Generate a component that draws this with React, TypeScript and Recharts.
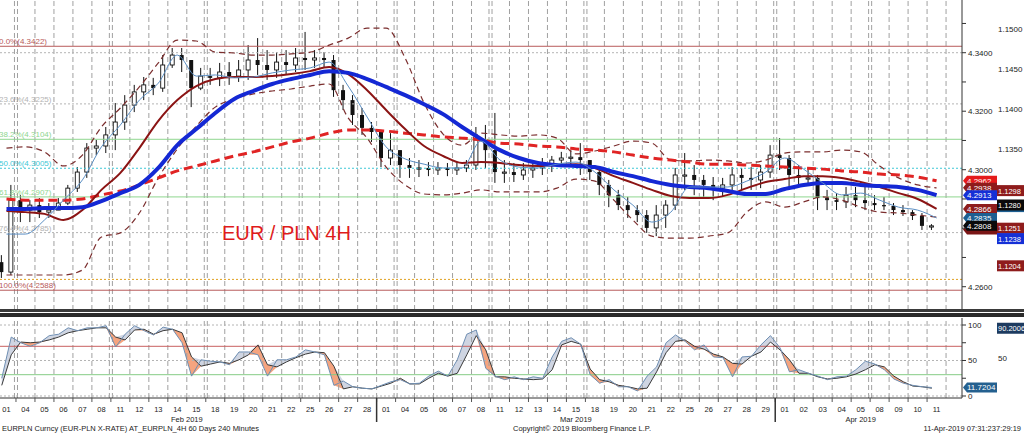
import React from "react";
import { Area, Bar, ComposedChart, Line, ReferenceLine, XAxis, YAxis } from "recharts";

const FONT = "'Liberation Sans', Arial, sans-serif";

// trading days on the axis, Feb 1 - Apr 11 2019
const dayLabels = [
  "01", "04", "05", "06", "07", "08", "11", "12", "13", "14", "15", "18", "19", "20", "21", "22", "25", "26", "27", "28",
  "01", "04", "05", "06", "07", "08", "11", "12", "13", "14", "15", "18", "19", "20", "21", "22", "25", "26", "27", "28", "29",
  "01", "02", "03", "04", "05", "08", "09", "10", "11",
];
const monthNames = ["Feb 2019", "Mar 2019", "Apr 2019"];

// EUR/PLN, half-day bars (open = previous close)
const firstOpen = 4.2684;
const highs = [
  4.2708, 4.2948, 4.2913, 4.2896, 4.2903, 4.2886, 4.2903, 4.2948, 4.3009, 4.3091,
  4.3102, 4.3146, 4.3228, 4.3255, 4.329, 4.3317, 4.3314, 4.3392, 4.3416, 4.3416,
  4.3358, 4.3348, 4.3348, 4.3365, 4.3368, 4.3375, 4.3426, 4.345, 4.3409, 4.3402,
  4.3409, 4.3416, 4.3471, 4.3409, 4.3402, 4.3392, 4.329, 4.3255, 4.3211, 4.3163,
  4.3136, 4.3125, 4.3067, 4.304, 4.3033, 4.3026, 4.3026, 4.3023, 4.3026, 4.3033,
  4.3146, 4.3153, 4.3194, 4.3033, 4.3023, 4.3023, 4.3026, 4.304, 4.3047, 4.3061,
  4.3067, 4.3091, 4.3033, 4.2999, 4.2965, 4.2931, 4.2907, 4.2879, 4.2862, 4.2879,
  4.2896, 4.3006, 4.3057, 4.3016, 4.2982, 4.2975, 4.2972, 4.3009, 4.3006, 4.3009,
  4.3016, 4.3084, 4.3108, 4.305, 4.3016, 4.3009, 4.2982, 4.2931, 4.292, 4.2941,
  4.2941, 4.2941, 4.2913, 4.2907, 4.2886, 4.2879, 4.2862, 4.2852, 4.2814,
];
const lows = [
  4.263, 4.264, 4.2821, 4.2821, 4.2835, 4.2835, 4.2862, 4.2879, 4.2924, 4.2972,
  4.305, 4.3057, 4.3067, 4.3136, 4.3197, 4.3238, 4.3255, 4.3266, 4.3348, 4.3334,
  4.3214, 4.3272, 4.329, 4.3286, 4.329, 4.33, 4.3307, 4.3324, 4.3307, 4.3314,
  4.3324, 4.3334, 4.3341, 4.3348, 4.3348, 4.3249, 4.3204, 4.3153, 4.3119, 4.3095,
  4.3009, 4.3016, 4.2972, 4.2972, 4.2975, 4.2978, 4.2982, 4.2978, 4.2982, 4.2992,
  4.2999, 4.3006, 4.2955, 4.2955, 4.2958, 4.2965, 4.2972, 4.2982, 4.2992, 4.3009,
  4.3013, 4.2982, 4.2965, 4.2913, 4.2872, 4.2862, 4.2835, 4.2821, 4.2784, 4.2773,
  4.2801, 4.2862, 4.2931, 4.2913, 4.2903, 4.2896, 4.2907, 4.292, 4.2931, 4.2931,
  4.2937, 4.2972, 4.2999, 4.2941, 4.2941, 4.2948, 4.2862, 4.2862, 4.2862, 4.2869,
  4.2872, 4.2862, 4.2862, 4.2862, 4.2845, 4.2842, 4.2828, 4.2794, 4.2794,
];
const closes = [
  4.265, 4.2896, 4.2862, 4.2879, 4.2855, 4.2862, 4.2886, 4.2937, 4.2992, 4.3074,
  4.3081, 4.3119, 4.3163, 4.3221, 4.3266, 4.329, 4.3279, 4.3358, 4.3392, 4.3375,
  4.3279, 4.332, 4.3314, 4.3334, 4.332, 4.3341, 4.3375, 4.3358, 4.3341, 4.3368,
  4.3358, 4.3382, 4.3375, 4.3382, 4.3375, 4.3272, 4.3238, 4.3187, 4.3143, 4.3129,
  4.304, 4.3067, 4.3016, 4.3006, 4.3006, 4.2999, 4.3006, 4.2999, 4.3006, 4.3016,
  4.3102, 4.3067, 4.2992, 4.2992, 4.2982, 4.2999, 4.3006, 4.3016, 4.3033, 4.304,
  4.3043, 4.3033, 4.2992, 4.2948, 4.2913, 4.2879, 4.2862, 4.2845, 4.2801, 4.2845,
  4.2879, 4.2982, 4.2982, 4.2965, 4.2948, 4.2937, 4.2948, 4.2982, 4.2972, 4.2965,
  4.2992, 4.305, 4.304, 4.2982, 4.2972, 4.2972, 4.2903, 4.2896, 4.289, 4.2913,
  4.2896, 4.2886, 4.2879, 4.2876, 4.2862, 4.2855, 4.2842, 4.2808, 4.2808,
];

// studies, one value per trading day
const fastMa = [
  4.278, 4.278, 4.2828, 4.2896, 4.2965, 4.3078, 4.3153, 4.3238, 4.3296, 4.3392,
  4.332, 4.3324, 4.3314, 4.3317, 4.3331, 4.3341, 4.3348, 4.3368, 4.3286, 4.318,
  4.3078, 4.3037, 4.3019, 4.3006, 4.3006, 4.3098, 4.3033, 4.3009, 4.3006, 4.3019,
  4.3026, 4.2992, 4.2931, 4.2879, 4.2821, 4.2855, 4.2941, 4.2941, 4.2941, 4.2961,
  4.2992, 4.304, 4.3002, 4.2955, 4.2914, 4.292, 4.2896, 4.2872, 4.2862, 4.2835,
];
const midMa = [
  4.2859, 4.2855, 4.2849, 4.2828, 4.2862, 4.2931, 4.2989, 4.3074, 4.3167, 4.3238,
  4.3286, 4.331, 4.3317, 4.3317, 4.332, 4.3327, 4.3337, 4.3351, 4.3327, 4.3272,
  4.3204, 4.3139, 4.3081, 4.3047, 4.3023, 4.3026, 4.3023, 4.3016, 4.3013, 4.3016,
  4.3019, 4.3006, 4.2978, 4.2955, 4.2931, 4.291, 4.2903, 4.2903, 4.2914, 4.2937,
  4.2958, 4.2968, 4.2978, 4.2978, 4.2972, 4.2958, 4.2941, 4.292, 4.29, 4.2866,
];
const trendMa = [
  4.2866, 4.2866, 4.2869, 4.2869, 4.2872, 4.2893, 4.292, 4.2948, 4.3006, 4.3084,
  4.3139, 4.3194, 4.3242, 4.3269, 4.3293, 4.331, 4.3324, 4.3337, 4.3331, 4.331,
  4.3283, 4.3255, 4.3224, 4.319, 4.3146, 4.3105, 4.3067, 4.304, 4.3023, 4.3016,
  4.3013, 4.3009, 4.2992, 4.2978, 4.2961, 4.2948, 4.2941, 4.2937, 4.2927, 4.2917,
  4.2917, 4.2934, 4.2948, 4.2955, 4.2955, 4.2948, 4.2944, 4.2941, 4.2931, 4.2913,
];
const slowMa = [
  4.29, 4.2896, 4.2896, 4.2896, 4.29, 4.2914, 4.2927, 4.2948, 4.2972, 4.2996,
  4.3013, 4.303, 4.3047, 4.3061, 4.3078, 4.3095, 4.3108, 4.3125, 4.3136, 4.3136,
  4.3132, 4.3125, 4.3119, 4.3112, 4.3108, 4.3102, 4.3091, 4.3088, 4.3081, 4.3078,
  4.3071, 4.3067, 4.3061, 4.305, 4.304, 4.3033, 4.3026, 4.3019, 4.3019, 4.3016,
  4.3013, 4.3009, 4.3006, 4.3002, 4.2996, 4.2992, 4.2985, 4.2982, 4.2975, 4.2962,
];
const bbUpper = [
  4.3074, 4.3078, 4.3061, 4.3013, 4.305, 4.3146, 4.3211, 4.3283, 4.3365, 4.3443,
  4.344, 4.3402, 4.3399, 4.3392, 4.3392, 4.3396, 4.3402, 4.3426, 4.345, 4.3484,
  4.3484, 4.3382, 4.3228, 4.3122, 4.3084, 4.3125, 4.3119, 4.3115, 4.3119, 4.3108,
  4.3054, 4.3064, 4.3081, 4.3098, 4.3091, 4.3033, 4.303, 4.3033, 4.303, 4.3023,
  4.3033, 4.3057, 4.3061, 4.3061, 4.3067, 4.3061, 4.3013, 4.2972, 4.2948, 4.2938,
];
const bbLower = [
  4.264, 4.264, 4.264, 4.264, 4.2657, 4.277, 4.2784, 4.2852, 4.2972, 4.3071,
  4.3149, 4.3214, 4.3242, 4.3259, 4.3269, 4.3276, 4.3286, 4.3293, 4.3177, 4.3108,
  4.3009, 4.2948, 4.2917, 4.2914, 4.292, 4.2931, 4.2924, 4.2924, 4.2924, 4.2937,
  4.2968, 4.2961, 4.2896, 4.2828, 4.2773, 4.2766, 4.2766, 4.2773, 4.2784, 4.2855,
  4.289, 4.2872, 4.289, 4.2907, 4.2896, 4.2872, 4.2855, 4.2852, 4.2845, 4.2838,
];

// stochastics, half-day
const stochK = [
  25, 83, 75, 70, 75, 85, 87, 96, 92, 96, 96, 99, 69, 87, 99, 92, 86, 97, 94, 75,
  28, 51, 49, 48, 44, 62, 62, 58, 28, 51, 51, 55, 65, 62, 58, 15, 21, 13, 11, 10,
  15, 20, 23, 17, 18, 28, 35, 28, 51, 87, 93, 39, 28, 23, 27, 23, 27, 25, 55, 77,
  82, 73, 30, 18, 23, 13, 13, 7, 28, 41, 75, 86, 77, 65, 72, 55, 54, 27, 55, 56,
  72, 85, 68, 34, 37, 32, 28, 23, 27, 28, 37, 49, 45, 37, 24, 18, 15, 13, 12,
];
const stochD = [
  15, 58, 76, 75, 76, 79, 83, 89, 92, 94, 96, 96, 83, 79, 93, 94, 87, 92, 94, 89,
  55, 42, 45, 48, 46, 51, 58, 72, 44, 41, 48, 54, 59, 62, 61, 42, 10, 13, 11, 10,
  14, 18, 25, 17, 17, 25, 32, 28, 32, 58, 85, 65, 27, 27, 25, 24, 23, 24, 37, 72,
  77, 73, 38, 23, 20, 15, 13, 10, 11, 34, 61, 77, 79, 70, 66, 59, 55, 46, 45, 56,
  62, 76, 65, 51, 32, 32, 27, 24, 25, 27, 31, 37, 44, 41, 28, 20, 14, 13, 11,
];

// Fibonacci retracement of the Jan-Feb move
const fibLabels = ["0.0%(4.3422)", "23.6%(4.3225)", "38.2%(4.3104)", "50.0%(4.3005)", "61.8%(4.2907)", "76.4%(4.2785)", "100.0%(4.2588)"];
const fibLevels = [4.3422, 4.3225, 4.3104, 4.3005, 4.2907, 4.2785, 4.2588];
const fibStyles = [
  { c: "#b85a5a", d: undefined }, { c: "#b4b4b4", d: "2 2" }, { c: "#8fd68f", d: undefined }, { c: "#3ec8d6", d: "2 2" },
  { c: "#8fd68f", d: undefined }, { c: "#b4b4b4", d: "2 2" }, { c: "#b85a5a", d: undefined },
];
const supportLevel = 4.2625;
const gridLevel = 4.34;

// last-value tags (empty text = tag hidden under its neighbour)
const plnTags = [4.2962, 4.2938, 4.2913, 4.2866, 4.2835, 4.2796, 4.2808];
const plnTagText = ["4.2962", "4.2938", "4.2913", "4.2866", "4.2835", "", "4.2808"];
const plnTagColors = ["#e41b1b", "#8e1c1c", "#1530d6", "#8e1c1c", "#1d5f92", "#7a1515", "#0a0a0a"];
const usdTags = [1.1298, 1.1278, 1.128, 1.1251, 1.1238, 1.1204];
const usdTagText = ["1.1298", "", "1.1280", "1.1251", "1.1238", "1.1204"];
const usdTagColors = ["#8e1c1c", "#1d5f92", "#0a0a0a", "#8e1c1c", "#1530d6", "#8e1c1c"];
const plnTicks = [4.26, 4.27, 4.28, 4.29, 4.3, 4.31, 4.32, 4.33, 4.34, 4.35];
const plnLabelled = [4.26, 4.3, 4.32, 4.34];
const usdTicks = [1.115, 1.135, 1.14, 1.145, 1.15];
const stochTicks = [0, 25, 50, 75, 100];

const PLOT_W = 965;
const DAY_DOMAIN: [number, number] = [0, 50.84];
const DAY_PX = PLOT_W / DAY_DOMAIN[1];

const candleRows = closes.map((c, j) => {
  const o = j === 0 ? firstOpen : closes[j - 1];
  return { t: j * 0.5 + 0.25, o, c, range: [Math.min(lows[j], o, c), Math.max(highs[j], o, c)] };
});
const studyRows = fastMa.map((v, i) => ({
  t: i + 0.5, fast: v, mid: midMa[i], trend: trendMa[i], slow: slowMa[i], up: bbUpper[i], lo: bbLower[i],
}));
const mainRows = [...candleRows, ...studyRows].sort((a, b) => a.t - b.t);

const stochRows = stochK.map((k, j) => {
  const d = stochD[j];
  return { t: j * 0.5 + 0.25, k, d, above: k >= d ? [d, k] : [d, d], below: k < d ? [k, d] : [d, d] };
});

// month starts and weekend breaks, from the day labels
const monthStarts: number[] = [];
const weekendBreaks: number[] = [];
{
  let m = 0;
  dayLabels.forEach((lab, i) => {
    if (lab === "01") { monthStarts.push(i); if (i > 0) m++; }
    const dt = new Date(2019, 1 + m, Number(lab));
    if (dt.getDay() === 5) weekendBreaks.push(i + 1);
  });
}
const monthCenters = monthStarts.map((s, k) => (s + (monthStarts[k + 1] ?? dayLabels.length)) / 2);
const dayBreaks = dayLabels.map((_, i) => i + 1);

const Candle = (p: any) => {
  const { x, y, width, height, payload } = p;
  if (!payload || !payload.range) return null;
  const [lo, hi] = payload.range;
  const top = Math.min(y, y + height);
  const h = Math.abs(height);
  const k = hi > lo ? h / (hi - lo) : 0;
  const yo = top + (hi - payload.o) * k;
  const yc = top + (hi - payload.c) * k;
  const cx = x + width / 2;
  const up = payload.c >= payload.o;
  return (
    <g>
      <line x1={cx} x2={cx} y1={top} y2={top + Math.max(h, 1)} stroke="#111" strokeWidth={1} />
      <rect x={cx - 2} y={Math.min(yo, yc)} width={4} height={Math.max(1.2, Math.abs(yc - yo))}
        fill={up ? "#fff" : "#111"} stroke="#111" strokeWidth={up ? 0.9 : 0} />
    </g>
  );
};

const fibLabel = (text: string, color: string) => (p: any) => (
  <text x={p.viewBox.x + 2} y={p.viewBox.y - 2} fill={color} fontSize={8} fontFamily={FONT}>{text}</text>
);

// tag with a pointed left end (first axis column)
const tag = (text: string, color: string, w: number) => (p: any) => {
  const x0 = p.viewBox.x + p.viewBox.width + 1;
  const y = p.viewBox.y;
  return (
    <g>
      <path d={`M${x0} ${y} L${x0 + 4} ${y - 5} L${x0 + w} ${y - 5} L${x0 + w} ${y + 5} L${x0 + 4} ${y + 5} Z`} fill={color} />
      {text && <text x={x0 + 4} y={y + 3} fill="#fff" fontSize={8} fontFamily={FONT}>{text}</text>}
    </g>
  );
};

// plain tag in the second axis column
const tag2 = (text: string, color: string) => (p: any) => {
  const x0 = p.viewBox.x + p.viewBox.width + 35;
  const y = p.viewBox.y;
  return (
    <g>
      <rect x={x0} y={y - 5.5} width={40} height={11} fill={color} />
      {text && <text x={x0 + 1} y={y + 3} fill="#fff" fontSize={7.5} fontFamily={FONT}>{text}</text>}
    </g>
  );
};

const DayTick = (p: any) => {
  const { x, y, payload } = p;
  const i = Math.floor(payload.value);
  const edge = x - DAY_PX / 2;
  const isMonth = monthStarts.includes(i) && i > 0;
  return (
    <g>
      <line x1={edge} x2={edge} y1={y} y2={y + 4} stroke="#555" />
      {isMonth && <line x1={edge} x2={edge} y1={y} y2={y + 24} stroke="#333" strokeWidth={1.5} />}
      <text x={x} y={y + 14} textAnchor="middle" fontSize={7.5} fill="#222" fontFamily={FONT}>{dayLabels[i]}</text>
    </g>
  );
};

const MonthTick = (p: any) => {
  const { x, y, payload } = p;
  const k = monthCenters.indexOf(payload.value);
  return <text x={x} y={y + 8} textAnchor="middle" fontSize={7.5} fill="#222" fontFamily={FONT}>{monthNames[k]}</text>;
};

const vLines = () => [
  ...dayBreaks.map((t) =>
    weekendBreaks.includes(t) ? null : (
      <ReferenceLine key={"d" + t} x={t} stroke="#a0a0a0" strokeDasharray="5 3" />
    ),
  ),
  ...weekendBreaks.flatMap((t) => [
    <ReferenceLine key={"wa" + t} x={t - 0.08} stroke="#a0a0a0" strokeDasharray="5 3" />,
    <ReferenceLine key={"wb" + t} x={t + 0.08} stroke="#a0a0a0" strokeDasharray="5 3" />,
  ]),
];

export default function App() {
  const tickStyle = { fontSize: 8, fill: "#222", fontFamily: FONT };
  return (
    <div style={{ position: "fixed", left: 0, top: 0, width: 1024, height: 434, background: "#fff", overflow: "hidden", fontFamily: FONT }}>
      <div style={{ position: "absolute", left: -3, top: 0 }}>
        <ComposedChart width={1030} height={310} data={mainRows} margin={{ top: 0, right: 0, bottom: 0, left: 0 }}>
          <XAxis type="number" dataKey="t" domain={DAY_DOMAIN} hide allowDataOverflow />
          <YAxis orientation="right" domain={[4.25204, 4.35802]} ticks={plnTicks} width={35} allowDataOverflow
            axisLine={{ stroke: "#333" }} tickLine={{ stroke: "#333" }} tickSize={4} tickMargin={2} tick={tickStyle}
            tickFormatter={(v: number) => (plnLabelled.some((l) => Math.abs(l - v) < 1e-6) ? v.toFixed(4) : "")} />
          <YAxis yAxisId="usd" orientation="right" type="number" domain={[1.114875, 1.153625]} allowDataOverflow ticks={usdTicks} width={30}
            axisLine={false} tickLine={false} tickSize={0} tickMargin={1} tick={tickStyle}
            tickFormatter={(v: number) => v.toFixed(4)} />
          {vLines()}
          <ReferenceLine y={gridLevel} stroke="#b4b4b4" strokeDasharray="2 2" />
          <ReferenceLine y={supportLevel} stroke="#e0a020" strokeDasharray="2 2" />
          {fibLevels.map((v, i) => (
            <ReferenceLine key={"f" + i} y={v} stroke={fibStyles[i].c} strokeDasharray={fibStyles[i].d}
              label={fibLabel(fibLabels[i], fibStyles[i].c)} />
          ))}
          <Line dataKey="up" stroke="#7b2e2e" strokeWidth={1.2} strokeDasharray="6 4" dot={false} activeDot={false} connectNulls type="monotone" isAnimationActive={false} />
          <Line dataKey="lo" stroke="#7b2e2e" strokeWidth={1.2} strokeDasharray="6 4" dot={false} activeDot={false} connectNulls type="monotone" isAnimationActive={false} />
          <Bar dataKey="range" barSize={4} shape={Candle} isAnimationActive={false} />
          <Line dataKey="slow" stroke="#e02424" strokeWidth={3} strokeDasharray="9 5" dot={false} activeDot={false} connectNulls type="monotone" isAnimationActive={false} />
          <Line dataKey="mid" stroke="#8b1414" strokeWidth={2} dot={false} activeDot={false} connectNulls type="monotone" isAnimationActive={false} />
          <Line dataKey="trend" stroke="#1428d4" strokeWidth={4} dot={false} activeDot={false} connectNulls type="monotone" isAnimationActive={false} />
          <Line dataKey="fast" stroke="#5b8fc4" strokeWidth={1} dot={false} activeDot={false} connectNulls type="monotone" isAnimationActive={false} />
          {plnTags.map((v, i) => (
            <ReferenceLine key={"p" + i} y={v} stroke="none" label={tag(plnTagText[i], plnTagColors[i], 34)} />
          ))}
          {usdTags.map((v, i) => (
            <ReferenceLine key={"u" + i} yAxisId="usd" y={v} stroke="none" label={tag2(usdTagText[i], usdTagColors[i])} />
          ))}
        </ComposedChart>
      </div>

      <div style={{ position: "absolute", left: 0, top: 309, width: 1024, height: 3, background: "#3a3a3a" }} />
      <div style={{ position: "absolute", left: 0, top: 313, width: 1024, height: 4, background: "#2a2a2a" }} />

      <div style={{ position: "absolute", left: -3, top: 318 }}>
        <ComposedChart width={1030} height={108} data={stochRows} margin={{ top: 0, right: 0, bottom: 0, left: 0 }}>
          <XAxis type="number" dataKey="t" domain={DAY_DOMAIN} allowDataOverflow ticks={dayLabels.map((_, i) => i + 0.5)}
            interval={0} height={16} axisLine={{ stroke: "#333" }} tickLine={false} tickSize={0} tickMargin={0} tick={DayTick} />
          <XAxis xAxisId="month" type="number" dataKey="t" domain={DAY_DOMAIN} allowDataOverflow ticks={monthCenters}
            interval={0} height={12} axisLine={false} tickLine={false} tickSize={0} tickMargin={0} tick={MonthTick} />
          <YAxis orientation="right" domain={[-2.82, 109.86]} ticks={stochTicks} width={35} allowDataOverflow
            axisLine={{ stroke: "#333" }} tickLine={{ stroke: "#333" }} tickSize={4} tickMargin={2} tick={tickStyle}
            tickFormatter={(v: number) => (v % 50 === 0 ? String(v) : "")} />
          <YAxis yAxisId="s2" orientation="right" type="number" domain={[-4.05, 104.05]} allowDataOverflow ticks={[50]} width={30}
            axisLine={false} tickLine={false} tickSize={0} tickMargin={1} tick={tickStyle} />
          {vLines()}
          <ReferenceLine y={100} stroke="#b4b4b4" strokeDasharray="2 2" />
          <ReferenceLine y={50} stroke="#b4b4b4" strokeDasharray="2 2" />
          <ReferenceLine y={0} stroke="#b4b4b4" strokeDasharray="2 2" />
          <ReferenceLine y={70} stroke="#c86060" />
          <ReferenceLine y={30} stroke="#86cc86" />
          <Area dataKey="above" stroke="none" fill="#cfd5e2" fillOpacity={1} type="linear" isAnimationActive={false} activeDot={false} />
          <Area dataKey="below" stroke="none" fill="#f5a47f" fillOpacity={1} type="linear" isAnimationActive={false} activeDot={false} />
          <Line dataKey="d" stroke="#3a3a3a" strokeWidth={1} dot={false} activeDot={false} type="linear" isAnimationActive={false} />
          <Line dataKey="k" stroke="#6f8fb3" strokeWidth={1} dot={false} activeDot={false} type="linear" isAnimationActive={false} />
          <ReferenceLine yAxisId="s2" y={90.2006} stroke="none" label={tag2("90.2006", "#1d3b60")} />
          <ReferenceLine y={stochK[stochK.length - 1]} stroke="none" label={tag("11.7204", "#24608f", 34)} />
        </ComposedChart>
      </div>

      <div style={{ position: "absolute", left: 222, top: 222, fontSize: 20, color: "#e01b1b", whiteSpace: "nowrap" }}>EUR / PLN 4H</div>
      <div style={{ position: "absolute", left: 2, top: 424, fontSize: 7.5, color: "#222", whiteSpace: "nowrap" }}>
        EURPLN Curncy (EUR-PLN X-RATE) AT_EURPLN_4H 60 Days 240 Minutes
      </div>
      <div style={{ position: "absolute", left: 513, top: 424, fontSize: 7.5, color: "#222", whiteSpace: "nowrap" }}>
        Copyright© 2019 Bloomberg Finance L.P.
      </div>
      <div style={{ position: "absolute", right: 3, top: 424, fontSize: 7.5, color: "#222", whiteSpace: "nowrap" }}>
        11-Apr-2019 07:31:237:29:19
      </div>
    </div>
  );
}
